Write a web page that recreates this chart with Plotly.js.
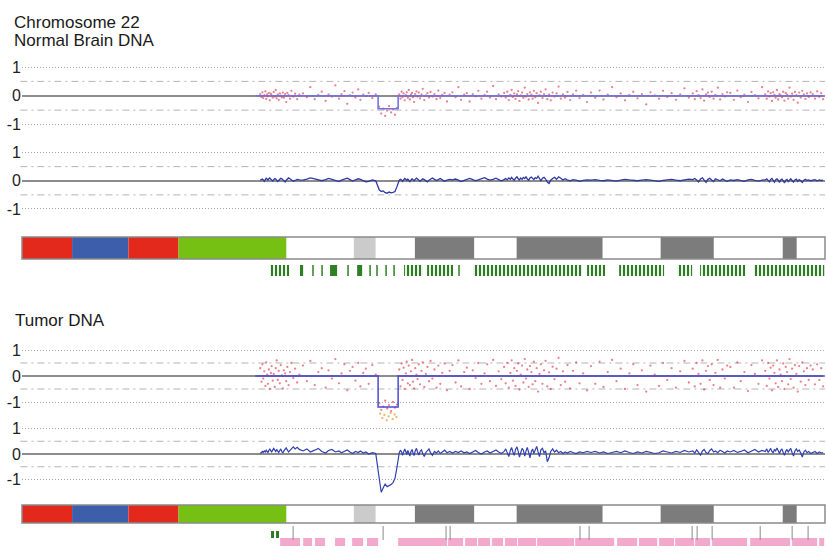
<!DOCTYPE html>
<html><head><meta charset="utf-8">
<script src="https://cdn.plot.ly/plotly-3.0.1.min.js"></script>
<style>html,body{margin:0;padding:0;background:#fff}#chart{width:827px;height:554px}</style>
</head><body><div id="chart"></div>
<script>
// ---------------- DATA (chromosome 22 positions in Mb, log2 ratios) ----------------
const chromLength = 51.3;
const tickVals = [-1, 0, 1];
const tickLabels = ['-1', '0', '1'];
const titleNormal = ['Chromosome 22', 'Normal Brain DNA'];
const titleTumor = 'Tumor DNA';

const probeX = [
15.22,15.30,15.36,15.41,15.48,15.55,15.60,15.66,15.71,15.77,15.83,15.90,15.95,16.02,16.08,16.15,16.21,16.27,16.34,16.40,16.47,16.53,16.60,16.66,16.73,16.81,16.88,16.95,17.03,17.12,17.21,17.33,17.45,17.58,17.72,
17.95,18.20,18.42,18.70,18.93,19.15,19.40,19.58,19.80,20.02,20.25,20.41,20.60,20.78,20.95,21.12,21.30,21.48,21.62,21.80,21.97,22.15,22.38,22.60,
22.82,22.95,23.08,23.20,23.33,23.45,23.58,23.70,23.83,23.96,
24.10,24.18,24.25,24.31,24.38,24.45,24.52,24.58,24.65,24.71,24.78,24.85,24.92,24.98,25.05,25.12,25.20,25.27,25.35,25.43,25.52,25.60,25.70,25.80,25.90,26.00,26.10,26.22,26.35,26.48,26.60,26.72,26.85,27.00,27.15,27.32,
27.50,27.70,27.88,28.05,28.25,28.42,28.60,28.80,28.98,29.15,29.35,29.55,29.72,29.90,30.10,30.28,30.45,30.62,
30.80,30.90,31.00,31.10,31.20,31.28,31.36,31.45,31.53,31.62,31.70,31.78,31.86,31.95,32.03,32.12,32.20,32.28,32.37,32.45,32.54,32.62,32.70,32.79,32.88,32.97,33.06,33.15,33.25,33.35,33.45,33.56,33.67,33.78,33.90,34.02,34.15,34.28,34.42,34.56,34.70,34.85,35.02,35.20,35.40,35.62,35.85,36.10,
36.35,36.62,36.90,37.15,37.42,37.70,37.98,38.25,38.52,38.80,39.05,39.32,39.60,39.88,40.15,40.42,40.70,40.95,41.22,41.50,41.78,42.05,42.32,42.60,
42.85,42.98,43.10,43.22,43.35,43.47,43.58,43.70,43.82,43.94,44.06,44.18,44.30,44.45,44.60,44.75,44.90,45.05,
45.25,45.48,45.70,45.92,46.15,46.38,46.60,46.82,47.05,47.28,
47.48,47.58,47.67,47.75,47.83,47.91,47.99,48.07,48.15,48.23,48.31,48.39,48.47,48.55,48.63,48.71,48.79,48.87,48.95,49.03,49.11,49.20,49.29,49.38,49.47,49.56,49.65,49.75,49.85,49.95,50.05,50.15,50.26,50.38,
50.52,50.66,50.80,50.94,51.06,51.18];

const normalRatio = [
0.06,-0.04,0.12,-0.08,0.02,0.15,-0.11,0.05,-0.02,0.1,-0.16,0.07,0.01,-0.06,0.13,-0.03,0.2,-0.09,0.04,-0.14,0.08,0.0,-0.05,0.11,-0.07,0.06,-0.22,0.1,0.02,-0.1,0.17,-0.03,0.07,-0.12,0.04,
0.08,-0.05,0.3,-0.12,0.03,0.14,-0.18,0.05,-0.03,0.36,-0.1,0.06,0.16,-0.28,0.02,0.11,-0.06,0.22,-0.14,0.04,-0.01,0.1,-0.08,0.05,
-0.38,-0.62,-0.45,-0.7,-0.52,-0.36,-0.58,-0.48,-0.66,-0.42,
0.05,-0.1,0.14,-0.04,0.08,-0.16,0.02,0.12,-0.07,0.2,-0.13,0.04,0.1,-0.05,-0.22,0.06,0.15,-0.03,0.11,-0.09,0.05,0.24,-0.15,0.01,0.09,-0.06,0.13,-0.03,0.06,-0.12,0.18,-0.08,0.03,0.1,-0.2,0.04,
0.12,-0.05,0.3,-0.14,0.04,0.09,-0.2,0.06,-0.02,0.17,-0.1,0.03,0.14,-0.06,0.34,-0.12,0.05,-0.03,
0.1,-0.06,0.14,-0.15,0.03,0.2,-0.04,0.08,-0.11,0.05,0.16,-0.18,0.01,0.11,-0.07,0.28,-0.03,0.06,-0.13,0.12,0.04,-0.1,0.17,-0.05,0.09,-0.25,0.02,0.14,-0.08,0.06,0.22,-0.12,0.04,-0.16,0.11,-0.03,0.08,0.32,-0.1,0.05,-0.06,0.13,-0.15,0.05,0.18,-0.08,0.03,-0.22,
0.11,-0.07,0.18,-0.13,0.04,0.3,-0.05,0.08,-0.16,0.03,0.14,-0.09,0.06,-0.3,0.12,0.01,-0.1,0.17,-0.04,0.09,-0.14,0.05,0.26,-0.06,
0.08,-0.12,0.16,0.02,-0.08,0.22,-0.17,0.05,0.11,-0.04,0.14,-0.1,0.03,0.28,-0.13,0.06,-0.03,0.12,
0.1,-0.14,0.18,-0.05,0.04,-0.22,0.13,0.02,-0.09,0.3,
0.05,-0.1,0.15,-0.03,0.09,-0.18,0.12,0.03,-0.07,0.2,-0.13,0.06,0.01,-0.05,0.14,-0.17,0.1,0.04,-0.1,0.28,-0.03,0.07,-0.14,0.13,0.02,-0.24,0.11,-0.06,0.17,0.05,-0.11,0.08,-0.04,0.12,
0.06,-0.1,0.15,-0.04,0.09,-0.12];

const normalSmooth = [
0.02,0.04,0.06,0.03,-0.02,0.05,0.09,0.06,0.02,0.07,0.1,0.05,0.03,-0.01,0.04,0.08,0.06,0.02,-0.03,0.01,0.05,0.09,0.07,0.03,0.0,-0.04,0.02,0.06,0.1,0.07,0.03,-0.02,0.01,0.05,0.03,
0.02,0.06,0.1,0.07,0.03,0.0,0.04,0.08,0.05,0.01,-0.03,0.02,0.06,0.09,0.04,-0.01,0.03,0.07,0.05,0.0,-0.04,-0.02,0.03,0.0,
-0.32,-0.38,-0.36,-0.42,-0.44,-0.4,-0.43,-0.41,-0.38,-0.2,
0.02,0.05,0.03,-0.02,0.04,0.08,0.05,0.01,0.06,0.03,-0.03,0.02,0.07,0.04,0.0,0.05,0.09,0.06,0.02,-0.02,0.03,0.07,0.04,0.0,-0.04,0.02,0.06,0.1,0.05,0.01,0.04,0.08,0.03,-0.02,0.02,0.05,
0.03,0.06,0.02,-0.03,0.01,0.05,0.08,0.04,0.0,0.03,0.07,0.11,0.06,0.02,0.05,0.09,0.04,0.0,
0.04,0.08,0.03,0.1,0.05,0.12,0.06,0.02,0.09,0.14,0.07,0.03,0.1,0.05,0.12,0.08,0.15,0.06,0.02,0.1,0.13,0.07,0.04,0.11,0.08,0.16,0.05,0.0,0.09,0.12,0.06,-0.05,-0.1,0.02,0.08,0.12,0.05,0.14,0.09,0.03,0.07,0.02,0.0,0.04,0.02,-0.02,0.01,0.03,
0.02,0.04,0.01,0.0,0.03,0.02,-0.01,0.02,0.05,0.03,0.01,0.0,0.02,0.04,0.02,0.0,-0.02,0.01,0.03,0.05,0.02,0.0,0.03,0.06,
0.04,0.08,0.03,-0.04,0.06,0.1,0.02,-0.06,0.05,0.09,0.03,-0.03,0.07,0.04,0.0,0.06,0.02,-0.02,
0.03,0.01,0.04,0.02,-0.02,0.03,0.05,0.01,-0.01,0.02,
0.03,0.07,0.02,-0.04,0.05,0.08,0.01,-0.05,0.04,0.07,0.02,-0.06,0.03,0.06,0.0,-0.08,0.02,0.05,-0.03,0.04,0.07,0.01,-0.05,0.03,0.06,-0.02,0.04,0.0,-0.06,0.02,0.05,0.01,0.03,0.0,
0.02,0.04,0.0,0.03,0.01,0.02];

const tumorRatio = [
0.3,-0.22,0.45,-0.1,0.18,-0.38,0.52,0.05,-0.3,0.25,-0.5,0.12,0.38,-0.18,0.08,-0.42,0.3,0.6,-0.15,0.2,-0.28,0.42,0.02,-0.48,0.22,0.1,-0.2,0.35,-0.35,0.15,0.5,-0.08,0.28,-0.25,0.05,
0.4,-0.2,0.58,-0.35,0.15,0.3,-0.45,0.22,-0.1,0.65,-0.28,0.1,0.45,-0.55,0.2,0.35,-0.18,0.5,-0.4,0.12,0.28,-0.3,0.42,0.05,
-1.05,-1.3,-1.18,-0.95,-1.25,-1.12,-1.35,-1.0,-1.22,-1.1,
0.25,-0.4,0.48,-0.15,0.32,-0.5,0.1,0.55,-0.28,0.4,-0.35,0.18,0.62,-0.22,-0.48,0.3,0.05,-0.12,0.45,-0.32,0.2,0.52,-0.42,0.08,0.35,-0.2,0.58,-0.1,0.25,-0.45,0.4,-0.3,0.12,0.48,-0.55,0.2,
0.42,-0.25,0.6,-0.4,0.15,0.32,-0.5,0.22,-0.08,0.5,-0.3,0.1,0.45,-0.2,0.62,-0.38,0.18,-0.12,
0.35,-0.28,0.5,-0.45,0.12,0.6,-0.18,0.3,-0.38,0.2,0.48,-0.52,0.05,0.4,-0.25,0.65,-0.1,0.25,-0.42,0.38,0.15,-0.32,0.55,-0.2,0.3,-0.6,0.08,0.45,-0.3,0.22,0.58,-0.4,0.14,-0.5,0.36,-0.12,0.28,0.7,-0.35,0.18,-0.22,0.42,-0.48,0.2,0.52,-0.28,0.1,-0.55,
0.38,-0.3,0.55,-0.42,0.15,0.62,-0.2,0.28,-0.5,0.1,0.45,-0.35,0.22,-0.6,0.4,0.05,-0.38,0.5,-0.15,0.3,-0.45,0.18,0.58,-0.25,
0.28,-0.4,0.5,0.08,-0.3,0.6,-0.52,0.2,0.38,-0.15,0.45,-0.35,0.12,0.62,-0.45,0.25,-0.1,0.4,
0.35,-0.45,0.52,-0.2,0.15,-0.58,0.42,0.08,-0.3,0.6,
0.2,-0.38,0.5,-0.1,0.32,-0.55,0.4,0.12,-0.28,0.6,-0.42,0.25,0.05,-0.2,0.48,-0.5,0.35,0.15,-0.32,0.65,-0.12,0.28,-0.45,0.42,0.08,-0.6,0.38,-0.22,0.52,0.18,-0.35,0.3,-0.15,0.4,
0.25,-0.32,0.45,-0.15,0.3,-0.4];

// low outlier probes in the deleted region (tumor)
const tumorLowX = [22.88,23.02,23.15,23.30,23.42,23.55,23.68,23.80,23.92];
const tumorLowY = [-1.45,-1.62,-1.5,-1.7,-1.55,-1.42,-1.66,-1.48,-1.58];

const tumorSmooth = [
0.02,0.05,0.1,0.06,0.12,0.08,0.15,0.1,0.05,0.14,0.2,0.12,0.08,0.16,0.22,0.15,0.1,0.18,0.12,0.06,0.14,0.2,0.1,0.04,0.12,0.18,0.24,0.16,0.08,0.14,0.22,0.28,0.2,0.26,0.18,
0.12,0.2,0.08,0.15,0.22,0.1,0.04,0.14,0.18,0.08,0.12,0.05,0.1,0.16,0.08,0.02,0.1,0.06,0.12,0.04,0.08,0.0,0.05,0.02,
-0.95,-1.5,-1.32,-1.18,-1.28,-1.24,-1.2,-1.12,-0.95,-0.5,
0.05,0.15,0.08,-0.05,0.12,0.2,0.1,-0.02,0.14,0.06,-0.08,0.1,0.18,0.04,-0.06,0.12,0.22,0.08,-0.04,0.1,0.16,0.02,-0.1,0.06,0.14,0.2,0.05,-0.05,0.1,0.04,0.12,0.02,0.08,0.15,0.05,0.1,
0.04,0.1,0.06,0.12,0.05,0.08,0.02,0.1,0.14,0.06,0.0,0.08,0.12,0.04,0.1,0.16,0.08,0.02,
0.1,0.2,0.05,-0.1,0.15,0.25,0.08,-0.05,0.18,0.28,0.1,-0.12,0.05,0.22,0.15,-0.08,0.12,0.26,0.06,-0.15,0.1,0.2,0.02,0.18,0.3,0.08,-0.1,0.16,0.22,0.05,0.12,-0.3,-0.15,0.1,0.2,0.08,0.15,0.05,0.1,0.02,0.08,0.04,0.1,0.06,0.02,0.08,0.05,0.1,
0.06,0.1,0.04,0.08,0.02,0.06,0.1,0.05,0.12,0.06,0.02,0.08,0.04,0.1,0.06,0.02,0.05,0.12,0.08,0.04,0.1,0.06,0.14,0.08,
0.12,0.04,0.16,0.08,-0.04,0.12,0.18,0.06,0.02,0.14,0.2,0.08,0.12,0.05,0.15,0.1,0.04,0.12,
0.08,0.14,0.06,0.1,0.16,0.05,0.12,0.18,0.08,0.14,
0.1,0.2,0.06,0.15,0.22,0.1,0.04,0.18,0.12,0.24,0.08,0.02,0.14,0.2,0.06,-0.05,0.1,0.18,0.08,0.14,0.22,0.05,-0.08,0.12,0.2,0.1,0.16,0.04,-0.12,0.08,0.15,0.05,0.1,0.02,
0.06,0.1,0.02,0.08,0.04,0.06];

// segmentation
const segStart  = [14.9, 22.75, 24.03];
const segEnd    = [22.75, 24.03, 51.2];
const segNormal = [0, -0.45, 0];
const segTumor  = [0, -1.19, 0];

// ideogram bands
const bandStart = [0, 3.2, 6.8, 10.0, 16.9, 21.2, 22.6, 25.1, 28.9, 31.6, 37.1, 40.8, 44.2, 48.6, 49.5];
const bandEnd   = [3.2, 6.8, 10.0, 16.9, 21.2, 22.6, 25.1, 28.9, 31.6, 37.1, 40.8, 44.2, 48.6, 49.5, 51.3];
const bandStain = ['pRed','pBlue','pRed','cen','gneg','gpos25','gneg','gpos75','gneg','gpos75','gneg','gpos75','gneg','gpos75','gneg'];

// feature track under ideogram 1 (green)
const greenClusterStart = [15.85, 24.41, 25.88, 28.82, 36.10, 38.15, 41.85, 43.32, 46.77];
const greenClusterEnd   = [17.06, 25.62, 27.54, 35.78, 37.25, 41.02, 42.81, 46.20, 51.25];
const greenBlockStart = [17.76, 19.68, 21.41];
const greenBlockEnd   = [17.96, 20.13, 21.73];
const greenSingle = [18.59, 19.17, 20.83, 22.24, 22.68, 23.26, 23.77, 27.92];

// feature track under ideogram 2
const pinkStart = [16.49,17.96,18.72,20.00,21.09,22.04,24.03,27.22,28.31,29.14,30.03,30.86,31.69,32.91,35.34,38.02,39.42,40.70,41.73,43.00,44.09,46.52,49.20,50.93];
const pinkEnd   = [17.76,18.53,19.36,20.64,21.79,22.75,27.16,28.18,29.07,29.90,30.73,31.63,32.84,35.27,37.83,39.30,40.58,41.66,42.94,43.96,46.33,49.07,50.80,51.25];
const grayTicks = [17.32, 23.07, 27.09, 27.35, 35.65, 36.23, 42.81, 43.13, 44.09, 47.16, 49.20, 50.22];
const green2Start = [15.91, 16.23];
const green2End   = [16.10, 16.42];

// ---------------- LAYOUT HELPERS ----------------
const W = 827, H = 554, ML = 22, MR = 2;
const PW = W - ML - MR;
function yDom(p1, pm1, lo, hi) { const u = (pm1 - p1) / 2, z = (p1 + pm1) / 2; return [1 - (z - lo * u) / H, 1 - (z - hi * u) / H]; }
function rowDom(top, bot) { return [1 - bot / H, 1 - top / H]; }
const px2x = p => (p - ML) / PW;
const px2y = p => 1 - p / H;

const stainColor = {pRed:'#e2291b', pBlue:'#3d5eab', cen:'#75c012', gneg:'#ffffff', gpos25:'#cbcbcb', gpos75:'#7c7c7c'};
const n = Math.min(probeX.length, normalRatio.length, normalSmooth.length, tumorRatio.length, tumorSmooth.length);
const X = probeX.slice(0, n);

function stepLine(s, e, v) { const xs = [], ys = []; for (let i = 0; i < s.length; i++) { xs.push(s[i], e[i]); ys.push(v[i], v[i]); } return {xs, ys}; }
const segN = stepLine(segStart, segEnd, segNormal);
const segT = stepLine(segStart, segEnd, segTumor);
const widths = (s, e) => s.map((v, i) => e[i] - v);

const ptColor = 'rgba(222,45,60,0.6)';
const traces = [
  {type:'scatter', mode:'markers', x:X, y:normalRatio.slice(0,n), xaxis:'x', yaxis:'y', marker:{size:2.3, color:ptColor}, hoverinfo:'skip'},
  {type:'scatter', mode:'lines', x:segN.xs, y:segN.ys, xaxis:'x', yaxis:'y', line:{color:'#7373e4', width:1.6}, hoverinfo:'skip'},
  {type:'scatter', mode:'lines', x:X, y:normalSmooth.slice(0,n), xaxis:'x', yaxis:'y2', line:{color:'#2f3aa0', width:1.3}, hoverinfo:'skip'},
  {type:'scatter', mode:'markers', x:X, y:tumorRatio.slice(0,n), xaxis:'x', yaxis:'y3', marker:{size:2.3, color:ptColor}, hoverinfo:'skip'},
  {type:'scatter', mode:'markers', x:tumorLowX, y:tumorLowY, xaxis:'x', yaxis:'y3', marker:{size:2.3, color:'rgba(230,160,60,0.75)'}, hoverinfo:'skip'},
  {type:'scatter', mode:'lines', x:segT.xs, y:segT.ys, xaxis:'x', yaxis:'y3', line:{color:'#4b4bd0', width:1.5}, hoverinfo:'skip'},
  {type:'scatter', mode:'lines', x:X, y:tumorSmooth.slice(0,n), xaxis:'x', yaxis:'y4', line:{color:'#3040b0', width:1.2}, hoverinfo:'skip'},
];
// ideograms
['y5','y7'].forEach(ax => traces.push({type:'bar', orientation:'h', base:bandStart, x:widths(bandStart, bandEnd), y:bandStart.map(()=>0), width:1,
  xaxis:'x', yaxis:ax, marker:{color:bandStain.map(s=>stainColor[s]), line:{width:0}}, hoverinfo:'skip'}));
// green feature track
traces.push({type:'bar', orientation:'h', base:greenClusterStart, x:widths(greenClusterStart, greenClusterEnd), y:greenClusterStart.map(()=>0), width:1,
  xaxis:'x', yaxis:'y6', marker:{color:'#ffffff', line:{width:0}, pattern:{shape:'|', fgcolor:'#2c7d22', bgcolor:'#ffffff', size:4, solidity:0.55, fillmode:'replace'}}, hoverinfo:'skip'});
traces.push({type:'bar', orientation:'h', base:greenBlockStart, x:widths(greenBlockStart, greenBlockEnd), y:greenBlockStart.map(()=>0), width:1,
  xaxis:'x', yaxis:'y6', marker:{color:'#2f7f25', line:{width:0}}, hoverinfo:'skip'});
traces.push({type:'scatter', mode:'markers', x:greenSingle, y:greenSingle.map(()=>0), xaxis:'x', yaxis:'y6',
  marker:{symbol:'line-ns', size:10, line:{color:'#3a8a2e', width:1.6}}, hoverinfo:'skip'});
// track under ideogram 2
traces.push({type:'bar', orientation:'h', base:pinkStart, x:widths(pinkStart, pinkEnd), y:pinkStart.map(()=>0.4), width:0.8,
  xaxis:'x', yaxis:'y8', marker:{color:'#f2a9cc', line:{width:0}}, hoverinfo:'skip'});
traces.push({type:'bar', orientation:'h', base:green2Start, x:widths(green2Start, green2End), y:green2Start.map(()=>1.15), width:0.7,
  xaxis:'x', yaxis:'y8', marker:{color:'#2c7a22', line:{width:0}}, hoverinfo:'skip'});
traces.push({type:'scatter', mode:'markers', x:grayTicks, y:grayTicks.map(()=>1.3), xaxis:'x', yaxis:'y8',
  marker:{symbol:'line-ns', size:10, line:{color:'#8a8a8a', width:1}}, hoverinfo:'skip'});

const tickFont = {family:'Arial, Liberation Sans, sans-serif', size:16, color:'#222'};
function panelAxis(dom, lo, hi) {
  return {domain:dom, range:[lo, hi], tickmode:'array', tickvals:tickVals, ticktext:tickLabels, tickfont:tickFont,
    ticks:'', showline:false, showgrid:true, gridcolor:'#a4a4a4', gridwidth:1, griddash:'1px,2px',
    zeroline:true, zerolinecolor:'#8c8c8c', zerolinewidth:1.8, anchor:'x', fixedrange:true};
}
const hiddenAxis = (dom, rng) => ({domain:dom, range:rng, visible:false, anchor:'x', fixedrange:true});

const panels = [['y', 67, 124.5, -1.1, 1.1], ['y2', 152.5, 209, -1.1, 1.1], ['y3', 350, 402, -1.8, 1.1], ['y4', 428.5, 479.5, -1.7, 1.1]];
const layout = {
  width:W, height:H, margin:{l:ML, r:MR, t:0, b:0}, paper_bgcolor:'#fff', plot_bgcolor:'rgba(0,0,0,0)',
  showlegend:false, barmode:'overlay',
  xaxis:{domain:[0,1], range:[0, chromLength], visible:false, fixedrange:true},
  yaxis5: hiddenAxis(rowDom(237, 259), [-0.5, 0.5]),
  yaxis6: hiddenAxis(rowDom(265, 276), [-0.5, 0.5]),
  yaxis7: hiddenAxis(rowDom(505, 523), [-0.5, 0.5]),
  yaxis8: hiddenAxis(rowDom(526, 546), [0, 2]),
  shapes: [], annotations: []
};
panels.forEach(([ax, p1, pm1, lo, hi]) => {
  const key = ax === 'y' ? 'yaxis' : 'yaxis' + ax.slice(1);
  layout[key] = panelAxis(yDom(p1, pm1, lo, hi), lo, hi);
  [-0.5, 0.5].forEach(v => layout.shapes.push({type:'line', layer:'below', xref:'paper', x0:-0.002, x1:1, yref:ax, y0:v, y1:v,
    line:{color:'#b4b4b4', width:1, dash:'7px,4px,2px,4px'}}));
});
['y5','y7'].forEach(ax => layout.shapes.push({type:'rect', xref:'paper', x0:0, x1:1, yref:ax + ' domain', y0:0, y1:1,
  line:{color:'#8a8a8a', width:1.5}, fillcolor:'rgba(0,0,0,0)'}));

const titleFont = {family:'Arial, Liberation Sans, sans-serif', size:17, color:'#1a1a1a'};
layout.annotations.push({text:titleNormal[0], xref:'paper', yref:'paper', x:px2x(12), y:px2y(22), xanchor:'left', yanchor:'middle', showarrow:false, font:titleFont});
layout.annotations.push({text:titleNormal[1], xref:'paper', yref:'paper', x:px2x(12), y:px2y(41), xanchor:'left', yanchor:'middle', showarrow:false, font:titleFont});
layout.annotations.push({text:titleTumor, xref:'paper', yref:'paper', x:px2x(13), y:px2y(320), xanchor:'left', yanchor:'middle', showarrow:false, font:titleFont});

Plotly.newPlot('chart', traces, layout, {displayModeBar:false, staticPlot:true});
</script></body></html>
